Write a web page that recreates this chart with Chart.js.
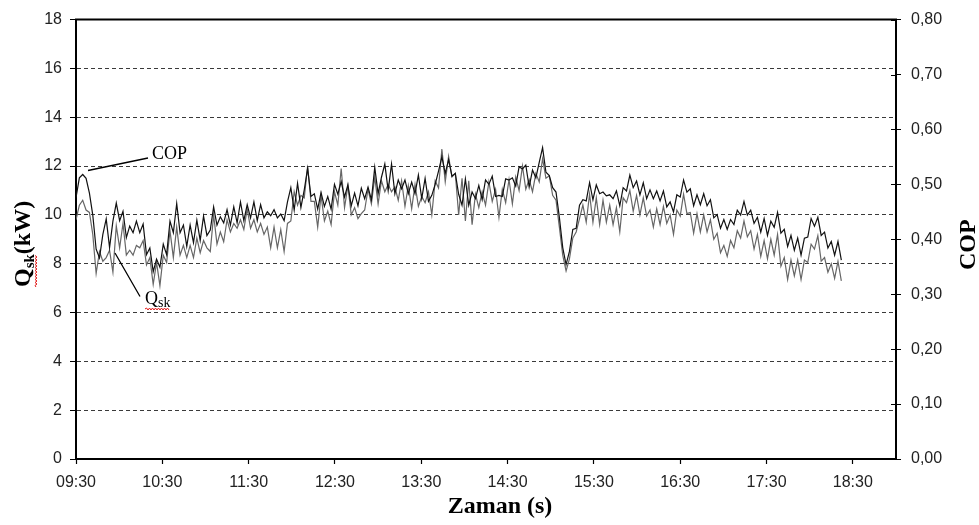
<!DOCTYPE html>
<html>
<head>
<meta charset="utf-8">
<script src="https://cdn.jsdelivr.net/npm/chart.js@4/dist/chart.umd.min.js"></script>
<style>
  html, body { margin: 0; padding: 0; background: #fff; }
  canvas { display: block; }
</style>
</head>
<body>
<canvas id="chart" width="979" height="525"></canvas>
<script>
// Logger interval: one reading every 140 s, starting at 09:30
const SAMPLE_MIN = 140 / 60;

// Hourly labels on the time axis (minutes after 09:30 = index * 60)
const timeLabels = ['09:30', '10:30', '11:30', '12:30', '13:30', '14:30', '15:30', '16:30', '17:30', '18:30'];
const qskTicks = [0, 2, 4, 6, 8, 10, 12, 14, 16, 18];
const copTicks = [0, 0.1, 0.2, 0.3, 0.4, 0.5, 0.6, 0.7, 0.8];
const copTickLabels = ['0,00', '0,10', '0,20', '0,30', '0,40', '0,50', '0,60', '0,70', '0,80'];

// Cooling capacity Q_sk (kW)
const qsk = [
  9.8, 10.4, 10.6, 10.2, 10.1, 9.2, 7.6, 8.5, 8.1, 8.25,
  8.55, 7.65, 9.55, 8.65, 9.65, 8.35, 8.55, 8.35, 8.75, 8.65,
  8.95, 7.95, 8.25, 7.15, 8.05, 7.1, 8.35, 8.05, 9.35, 8.25,
  9.5, 8.35, 8.75, 8.25, 8.75, 8.25, 9.05, 8.45, 8.95, 8.65,
  8.5, 10.0, 8.8, 9.3, 8.9, 9.8, 9.3, 9.65, 9.45, 9.8,
  9.4, 10.25, 9.45, 9.8, 9.3, 9.65, 9.2, 9.5, 8.65, 9.5,
  8.65, 9.4, 8.5, 9.65, 9.75, 10.95, 10.4, 10.8, 10.7, 12.0,
  10.55, 10.55, 9.5, 10.8, 9.75, 10.15, 9.6, 10.95, 10.4, 11.9,
  10.3, 11.2, 10.0, 10.3, 9.85, 10.05, 10.2, 11.05, 10.45, 11.55,
  10.45, 11.4, 10.95, 11.25, 10.95, 11.15, 10.6, 11.4, 10.35, 11.2,
  10.25, 11.25, 10.35, 10.75, 10.5, 10.95, 10.0, 11.4, 11.1, 12.7,
  11.35, 12.4, 11.55, 11.7, 10.0, 11.5, 9.75, 11.4, 9.6, 10.85,
  10.3, 10.95, 10.4, 11.35, 10.55, 11.05, 9.9, 11.05, 10.5, 11.45,
  10.45, 11.55, 11.0, 12.0, 11.05, 11.45, 10.95, 11.7, 11.35, 12.3,
  11.5, 11.6, 10.8, 10.6, 9.5, 8.35, 7.7, 8.2, 9.05, 9.3,
  9.85, 10.4, 9.7, 10.85, 9.7, 10.7, 9.6, 10.6, 9.7, 10.4,
  9.6, 10.3, 9.3, 10.7, 10.5, 11.0, 10.15, 10.8, 10.0, 10.7,
  9.95, 10.2, 9.5, 10.25, 9.6, 10.35, 9.65, 10.0, 9.2, 10.2,
  9.95, 10.85, 10.05, 10.1, 9.25, 10.05, 9.3, 10.0, 9.3, 9.8,
  9.0, 9.25, 8.45, 8.75, 8.3, 8.95, 8.65, 9.35, 9.05, 9.75,
  9.1, 9.35, 8.6, 9.2, 8.3, 8.95, 8.2, 9.0, 8.35, 9.2,
  7.9, 8.25, 7.35, 8.15, 7.5, 8.15, 7.35, 8.15, 8.05, 8.8,
  8.6, 9.15, 8.1, 8.25, 7.65, 8.0, 7.4, 8.1, 7.3
];

// Coefficient of performance
const cop = [
  0.476, 0.512, 0.518, 0.511, 0.484, 0.444, 0.382, 0.366, 0.409, 0.437,
  0.385, 0.433, 0.466, 0.434, 0.451, 0.403, 0.424, 0.412, 0.433, 0.412,
  0.428, 0.372, 0.384, 0.341, 0.364, 0.349, 0.391, 0.372, 0.433, 0.412,
  0.465, 0.412, 0.426, 0.387, 0.426, 0.394, 0.435, 0.398, 0.442, 0.407,
  0.417, 0.459, 0.426, 0.441, 0.430, 0.454, 0.426, 0.459, 0.430, 0.468,
  0.434, 0.463, 0.439, 0.468, 0.434, 0.463, 0.439, 0.450, 0.443, 0.454,
  0.439, 0.446, 0.434, 0.468, 0.494, 0.453, 0.502, 0.458, 0.490, 0.529,
  0.478, 0.483, 0.455, 0.485, 0.460, 0.478, 0.455, 0.500, 0.482, 0.505,
  0.477, 0.499, 0.461, 0.484, 0.461, 0.493, 0.474, 0.495, 0.472, 0.531,
  0.483, 0.513, 0.537, 0.489, 0.537, 0.483, 0.508, 0.492, 0.508, 0.483,
  0.504, 0.483, 0.517, 0.474, 0.511, 0.469, 0.480, 0.500, 0.524, 0.550,
  0.520, 0.545, 0.515, 0.520, 0.482, 0.462, 0.510, 0.462, 0.486, 0.474,
  0.498, 0.472, 0.508, 0.500, 0.515, 0.478, 0.480, 0.478, 0.510, 0.508,
  0.512, 0.497, 0.532, 0.528, 0.535, 0.495, 0.526, 0.512, 0.540, 0.567,
  0.522, 0.516, 0.494, 0.486, 0.440, 0.385, 0.354, 0.378, 0.418, 0.420,
  0.462, 0.472, 0.470, 0.503, 0.472, 0.499, 0.483, 0.486, 0.479, 0.481,
  0.474, 0.488, 0.461, 0.494, 0.488, 0.517, 0.494, 0.506, 0.481, 0.503,
  0.474, 0.490, 0.474, 0.488, 0.470, 0.488, 0.459, 0.468, 0.450, 0.481,
  0.477, 0.508, 0.486, 0.492, 0.461, 0.481, 0.463, 0.483, 0.461, 0.472,
  0.439, 0.445, 0.420, 0.436, 0.418, 0.436, 0.427, 0.453, 0.444, 0.469,
  0.444, 0.453, 0.429, 0.440, 0.413, 0.438, 0.407, 0.433, 0.422, 0.449,
  0.411, 0.418, 0.387, 0.407, 0.380, 0.402, 0.371, 0.402, 0.404, 0.438,
  0.424, 0.440, 0.407, 0.413, 0.384, 0.396, 0.371, 0.396, 0.362
];

const toPoints = arr => arr.map((v, i) => ({ x: i * SAMPLE_MIN, y: v }));

const TICK_FONT = { family: '"Liberation Sans", Arial, sans-serif', size: 16 };
const SERIF = '"Liberation Serif", "Times New Roman", serif';

// Red wavy underline (spell-check mark) under a word
function squiggle(ctx, x0, x1, y) {
  ctx.save();
  ctx.beginPath();
  ctx.moveTo(x0, y);
  let up = true;
  for (let x = x0 + 1.5; x <= x1; x += 1.5) {
    ctx.lineTo(x, up ? y - 1 : y + 1);
    up = !up;
  }
  ctx.strokeStyle = '#e01818';
  ctx.lineWidth = 1;
  ctx.stroke();
  ctx.restore();
}

const decorations = {
  id: 'decorations',
  afterDraw(chart) {
    const { ctx, chartArea: a, scales } = chart;
    ctx.save();

    // top edge of the plot frame
    ctx.strokeStyle = '#000';
    ctx.lineWidth = 2;
    ctx.beginPath();
    ctx.moveTo(a.left - 1, a.top);
    ctx.lineTo(a.right + 1, a.top);
    ctx.stroke();

    // inner half of the right-axis tick marks
    ctx.lineWidth = 1;
    scales.yCop.ticks.forEach(t => {
      const y = Math.round(scales.yCop.getPixelForValue(t.value)) + 0.5;
      ctx.beginPath();
      ctx.moveTo(a.right - 5, y);
      ctx.lineTo(a.right, y);
      ctx.stroke();
    });

    ctx.fillStyle = '#000';
    ctx.textBaseline = 'alphabetic';

    // left axis title: Q_sk(kW)
    ctx.save();
    ctx.translate(30, 287);
    ctx.rotate(-Math.PI / 2);
    ctx.font = 'bold 24px ' + SERIF;
    ctx.fillText('Q', 0, 0);
    const w = ctx.measureText('Q').width;
    ctx.font = 'bold 15px ' + SERIF;
    ctx.fillText('sk', w, 4);
    const w2 = ctx.measureText('sk').width;
    ctx.font = 'bold 24px ' + SERIF;
    ctx.fillText('(kW)', w + w2, 0);
    squiggle(ctx, 0, w + w2, 6);
    ctx.restore();

    // right axis title: COP
    ctx.save();
    ctx.translate(975, 270);
    ctx.rotate(-Math.PI / 2);
    ctx.font = 'bold 24px ' + SERIF;
    ctx.fillText('COP', 0, 0);
    ctx.restore();

    // x axis title
    ctx.font = 'bold 24px ' + SERIF;
    ctx.textAlign = 'center';
    ctx.fillText('Zaman (s)', 500, 513);
    ctx.textAlign = 'left';

    // series callouts
    ctx.strokeStyle = '#000';
    ctx.lineWidth = 1.3;
    ctx.beginPath();
    ctx.moveTo(88, 170.5);
    ctx.lineTo(148, 158);
    ctx.moveTo(115, 253);
    ctx.lineTo(140, 296.5);
    ctx.stroke();

    ctx.font = '18px ' + SERIF;
    ctx.fillText('COP', 152, 158.5);
    ctx.fillText('Q', 145, 304);
    const qw = ctx.measureText('Q').width;
    ctx.font = '14px ' + SERIF;
    ctx.fillText('sk', 145 + qw, 307);
    const sw = ctx.measureText('sk').width;
    squiggle(ctx, 145, 145 + qw + sw, 309);

    ctx.restore();
  }
};

new Chart(document.getElementById('chart'), {
  type: 'line',
  data: {
    datasets: [
      {
        label: 'COP',
        data: toPoints(cop),
        yAxisID: 'yCop',
        borderColor: '#111',
        borderWidth: 1.2,
        pointRadius: 0,
        tension: 0,
        order: 0
      },
      {
        label: 'Qsk',
        data: toPoints(qsk),
        yAxisID: 'yQ',
        borderColor: '#666',
        borderWidth: 1.2,
        pointRadius: 0,
        tension: 0,
        order: 1
      }
    ]
  },
  options: {
    responsive: false,
    animation: false,
    events: [],
    layout: { padding: { top: 12, left: 0, right: 0, bottom: 0 } },
    plugins: { legend: { display: false }, tooltip: { enabled: false } },
    scales: {
      x: {
        type: 'linear',
        min: 0,
        max: 570,
        afterBuildTicks: s => { s.ticks = timeLabels.map((_, i) => ({ value: i * 60 })); },
        afterFit: s => { s.height = 66; },
        ticks: {
          callback: (v, i) => timeLabels[i],
          font: TICK_FONT,
          color: '#222',
          padding: 9,
          maxRotation: 0,
          autoSkip: false
        },
        grid: { drawOnChartArea: false, tickLength: 5, tickColor: '#000', tickWidth: 1.2 },
        border: { color: '#000', width: 2 }
      },
      yQ: {
        type: 'linear',
        position: 'left',
        min: 0,
        max: 18,
        afterBuildTicks: s => { s.ticks = qskTicks.map(v => ({ value: v })); },
        afterFit: s => { s.width = 76; },
        ticks: { font: TICK_FONT, color: '#222', padding: 8 },
        grid: {
          color: c => (c.tick && (c.tick.value === 0 || c.tick.value === 18)) ? 'rgba(0,0,0,0)' : '#3a3a3a',
          lineWidth: 1,
          tickLength: 6,
          tickColor: '#000',
          tickWidth: 1
        },
        border: { color: '#000', width: 2, dash: [4, 3] }
      },
      yCop: {
        type: 'linear',
        position: 'right',
        min: 0,
        max: 0.8,
        afterBuildTicks: s => { s.ticks = copTicks.map(v => ({ value: v })); },
        afterFit: s => { s.width = 83; },
        ticks: {
          callback: (v, i) => copTickLabels[i],
          font: TICK_FONT,
          color: '#222',
          padding: 10
        },
        grid: { drawOnChartArea: false, tickLength: 5, tickColor: '#000', tickWidth: 1 },
        border: { color: '#000', width: 2 }
      }
    }
  },
  plugins: [decorations]
});
</script>
</body>
</html>
